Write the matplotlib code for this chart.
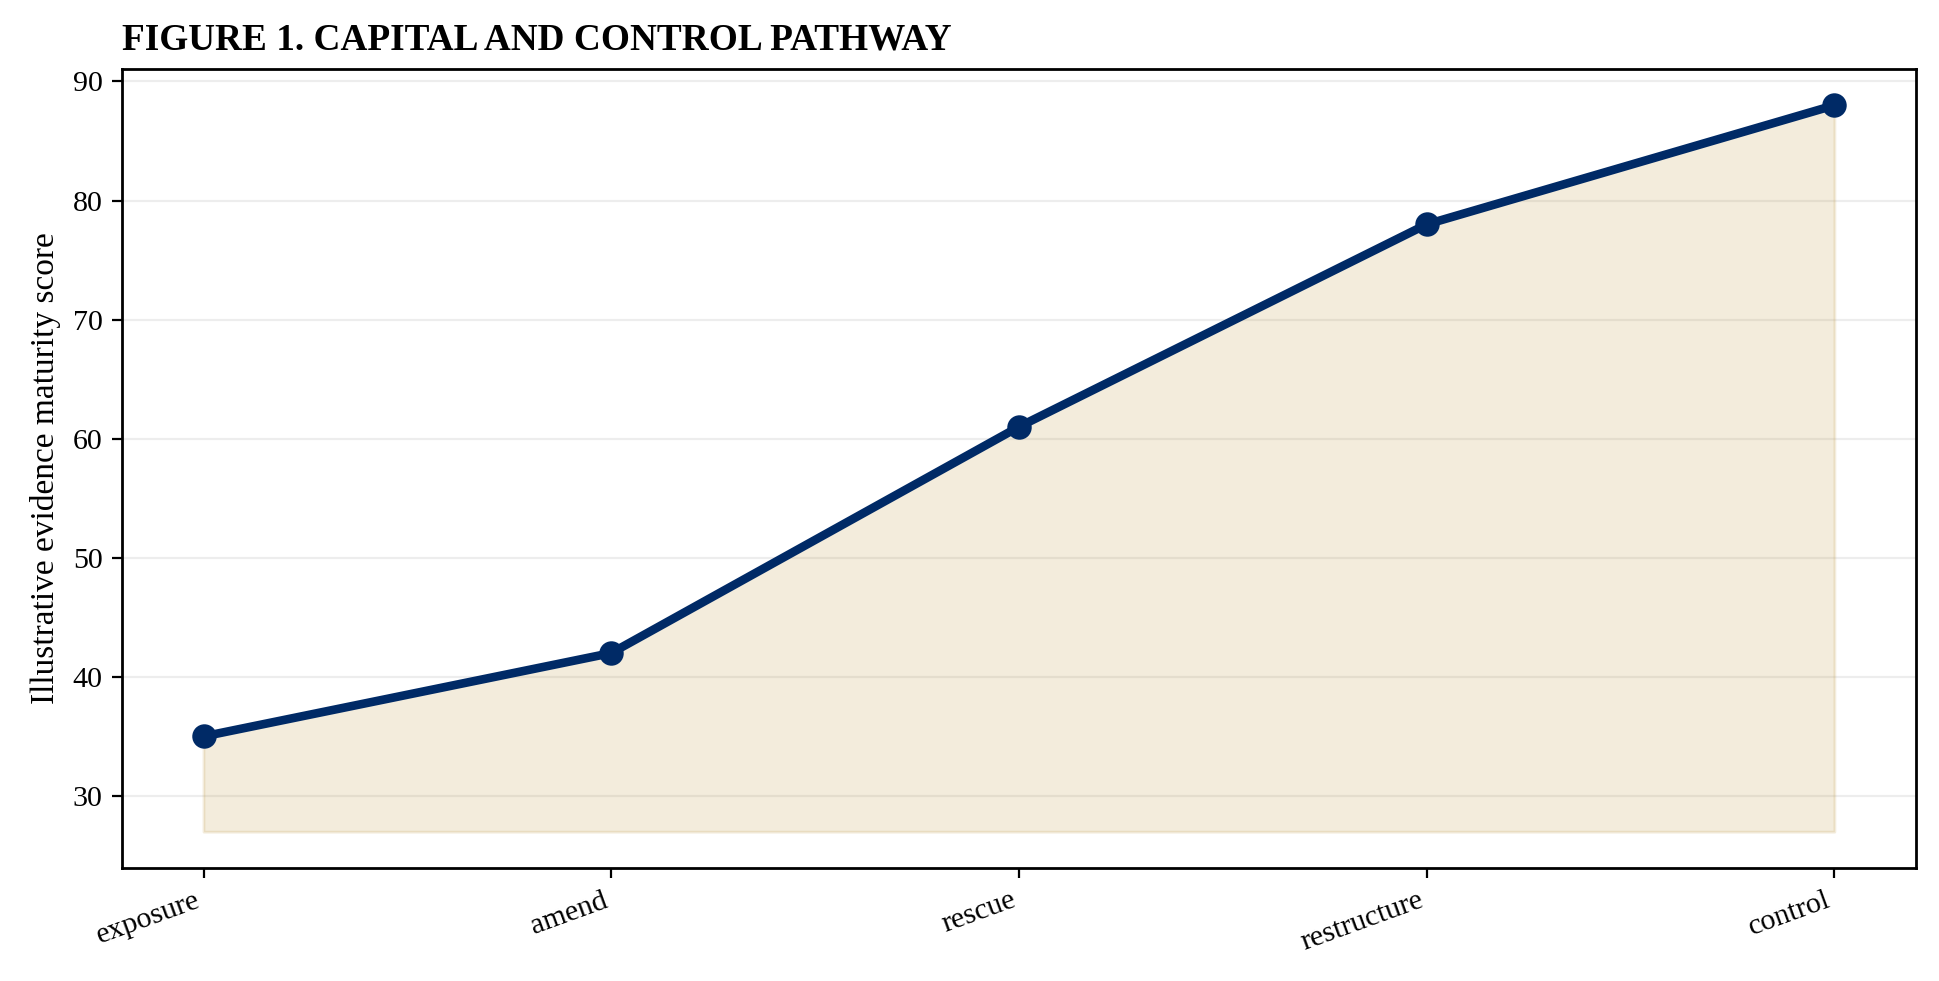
import matplotlib
matplotlib.use("Agg")
import matplotlib.pyplot as plt

stages = ["exposure", "amend", "rescue", "restructure", "control"]
scores = [35, 42, 61, 78, 88]
fill_base = 27

plt.rcParams['font.family'] = ['Liberation Serif', 'DejaVu Serif']
plt.rcParams['font.size'] = 10.8

fig = plt.figure(figsize=(9.695, 4.905), dpi=200)
ax = fig.add_axes([0.0629, 0.1152, 0.9252, 0.8145])

x = list(range(len(stages)))
ax.fill_between(x, fill_base, scores, color='#c3a050', alpha=0.2, linewidth=1.0, zorder=1)
ax.plot(x, scores, color='#002a66', linewidth=3.1, marker='o', markersize=7.8, zorder=3)

ax.set_xticks(x)
ax.set_xticklabels(stages, rotation=20, ha='right')
ax.set_ylabel('Illustrative evidence maturity score', fontsize=12)
ax.grid(axis='y', color='#e2e2e2', linewidth=0.8, alpha=0.6)
ax.set_axisbelow(True)
for s in ax.spines.values():
    s.set_linewidth(1.0)

ax.set_title('FIGURE 1. CAPITAL AND CONTROL PATHWAY', loc='left', fontsize=13.4, fontweight='bold', pad=7)

fig.savefig('out.png', dpi=200)
